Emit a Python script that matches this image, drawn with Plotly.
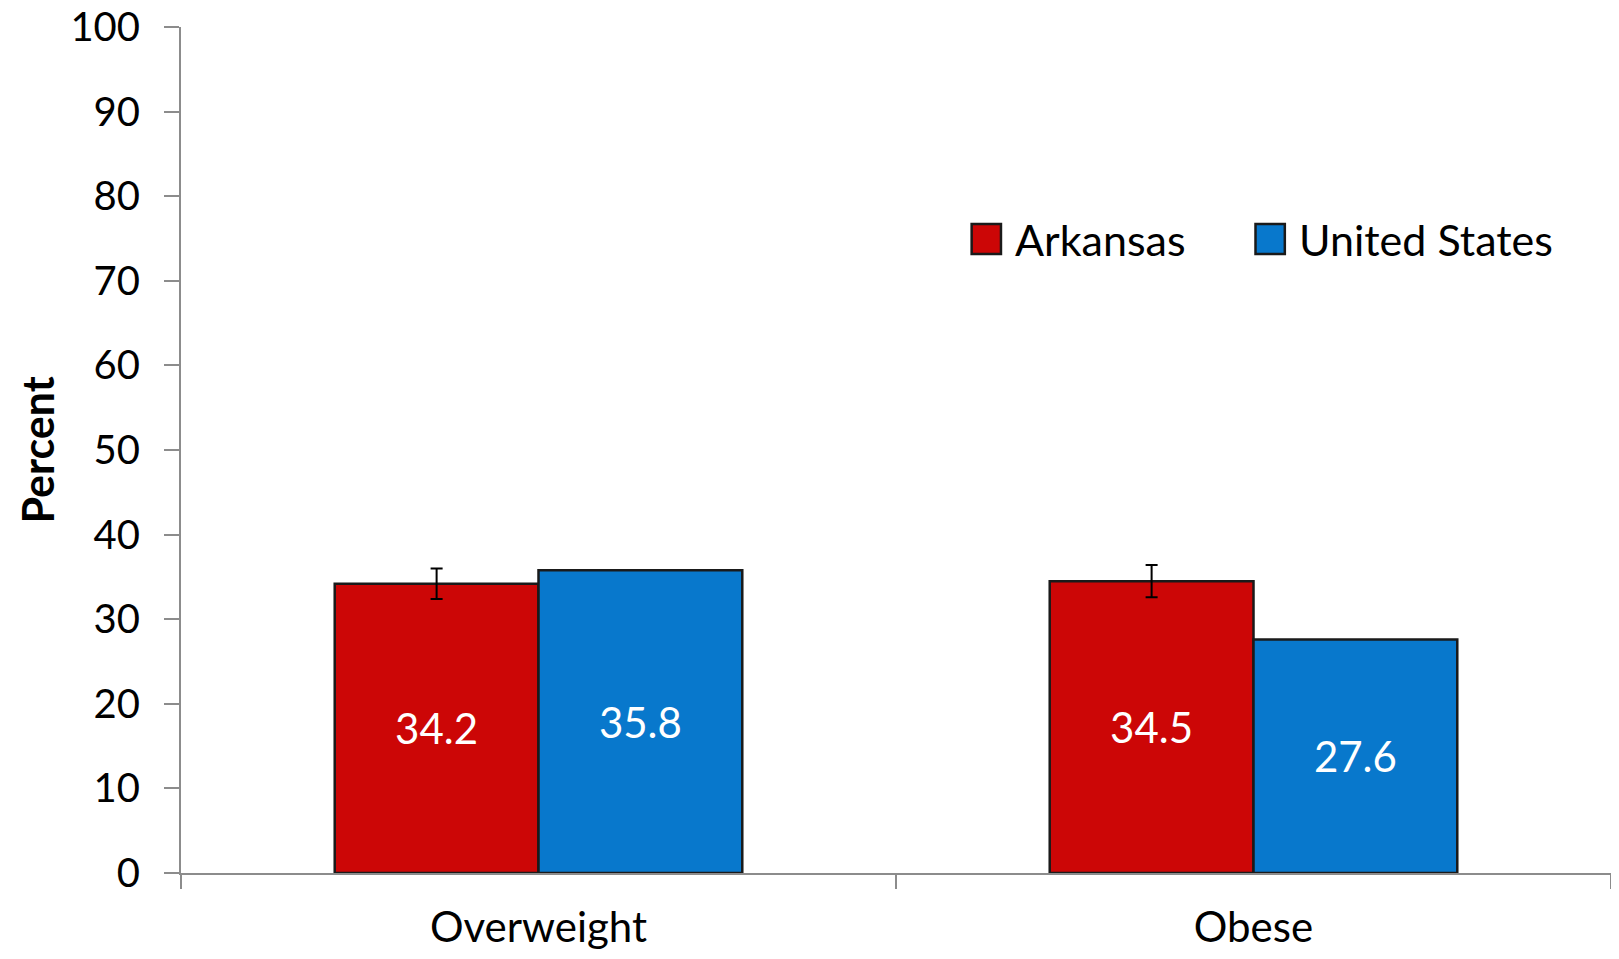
import plotly.graph_objects as go

categories = ["Overweight", "Obese"]
arkansas = [34.2, 34.5]
arkansas_err = [1.8, 1.9]
united_states = [35.8, 27.6]
y_ticks = [0, 10, 20, 30, 40, 50, 60, 70, 80, 90, 100]

FONT = "Lato, 'Open Sans', sans-serif"
RED = "#CC0606"
BLUE = "#0878CC"

fig = go.Figure()
fig.add_trace(go.Bar(
    x=categories, y=arkansas, name="Arkansas",
    marker=dict(color=RED, line=dict(color="#1a1a1a", width=2.5)),
    error_y=dict(type="data", array=arkansas_err, color="black", thickness=2, width=6),
    text=[f"{v:.1f}" for v in arkansas], textposition="inside",
    insidetextanchor="middle", textfont=dict(color="white", size=42, family=FONT),
))
fig.add_trace(go.Bar(
    x=categories, y=united_states, name="United States",
    marker=dict(color=BLUE, line=dict(color="#1a1a1a", width=2.5)),
    text=[f"{v:.1f}" for v in united_states], textposition="inside",
    insidetextanchor="middle", textfont=dict(color="white", size=42, family=FONT),
))

# legend drawn by hand so the swatches can be as big as in the original
legend_items = [("Arkansas", RED, 0.5529), ("United States", BLUE, 0.7514)]
for name, col, x0 in legend_items:
    fig.add_shape(type="rect", xref="paper", yref="paper",
                  x0=x0, x1=x0 + 0.0205, y0=0.7317, y1=0.7671,
                  fillcolor=col, line=dict(color="#1a1a1a", width=2.5))
    fig.add_annotation(text=name, xref="paper", yref="paper", x=x0 + 0.029, y=0.7494,
                       xanchor="left", yanchor="middle", showarrow=False,
                       font=dict(size=43, family=FONT, color="black"))

# y axis title
fig.add_annotation(text="<b>Percent</b>", xref="paper", yref="paper", x=-0.101, y=0.5,
                   textangle=-90, xanchor="center", yanchor="middle", showarrow=False,
                   borderpad=0, font=dict(size=43, family=FONT, color="black"))

fig.update_layout(
    width=1603, height=943,
    margin=dict(l=173, r=0, t=19, b=78),
    paper_bgcolor="white", plot_bgcolor="white",
    font=dict(family=FONT, color="black", size=40),
    barmode="group", bargap=0.43, bargroupgap=0,
    showlegend=False,
    uniformtext=dict(mode="show", minsize=42),
)
fig.update_yaxes(
    range=[0, 100], tickvals=y_ticks, showgrid=False, zeroline=False,
    showline=True, linecolor="#8c8c8c", linewidth=2,
    ticks="outside", ticklen=15, tickcolor="#8c8c8c", tickwidth=2,
    ticklabelstandoff=16, tickfont=dict(size=40), ticklabeloverflow="allow",
    automargin=False,
)
fig.update_xaxes(
    showgrid=False, showline=True, linecolor="#8c8c8c", linewidth=2,
    ticks="outside", tickson="boundaries", ticklen=14, tickcolor="#8c8c8c", tickwidth=2,
    tickfont=dict(size=42), ticklabelstandoff=17, ticklabeloverflow="allow",
    automargin=False,
)

fig.write_html("out.html")
